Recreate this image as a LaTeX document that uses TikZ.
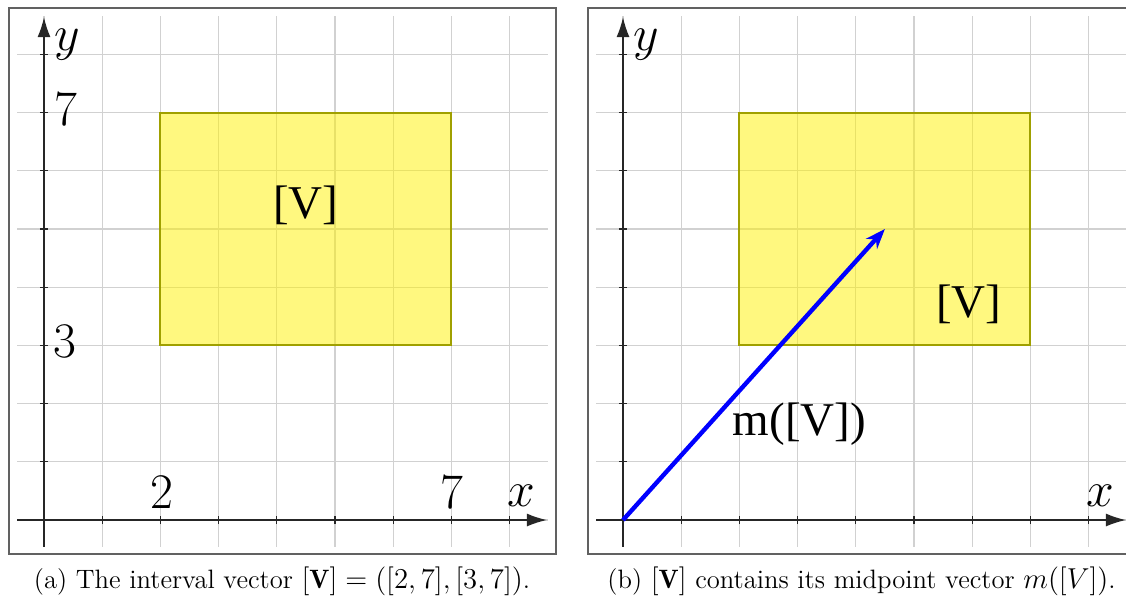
\documentclass[tikz,border=0pt]{standalone}
\usepackage{fontspec}
\newfontfamily\timesf{Liberation Serif}
\usetikzlibrary{arrows.meta}
\definecolor{boxedge}{RGB}{160,160,0}
\begin{document}
\begin{tikzpicture}[x=0.5pt,y=-0.5pt]
\useasboundingbox (0,0) rectangle (1126,596);
\tikzset{
  gridline/.style={draw=black!18, line width=0.6pt},
  axis/.style={draw=black!85, line width=0.65pt, -{Latex[length=10pt,width=6.5pt]}},
  tick/.style={draw=black!85, line width=0.6pt},
  panelframe/.style={draw=black!62, line width=0.8pt},
  ivbox/.style={fill=yellow, fill opacity=0.5, draw=boxedge, draw opacity=1, line width=1pt},
  axlabel/.style={font=\fontsize{24.88}{30}\selectfont, inner sep=0pt},
  vlabel/.style={font=\timesf\fontsize{23.5}{28}\selectfont, inner sep=0pt},
  captext/.style={font=\fontsize{13.3}{16}\selectfont, inner sep=0pt},
  midvec/.style={draw=blue, line width=2.2pt, -{Stealth[length=10pt,width=7.5pt]}},
}
% frames
\draw[panelframe] (9,8) rectangle (556,554);
\draw[panelframe] (588,8) rectangle (1140,554);

% ---------- panel (a)
\begin{scope}[shift={(44,520)}, x=29.1pt, y=29.1pt]
  \foreach \i in {0,...,8} {
    \draw[gridline] (\i,-0.46) -- (\i,8.66);
    \draw[gridline] (-0.46,\i) -- (8.66,\i);
  }
  \draw[ivbox] (2,3) rectangle (7,7);
  \coordinate (aO) at (0,0);
  \coordinate (aXs) at (-0.46,0);
  \coordinate (aXe) at (8.64,0);
  \coordinate (aYs) at (0,-0.46);
  \coordinate (aYe) at (0,8.64);
  \draw[axis] (aXs) -- (aXe);
  \draw[axis] (aYs) -- (aYe);
  \foreach \i in {1,...,8} {
    \draw[tick] (\i,-0.07) -- (\i,0.07);
    \draw[tick] (-0.07,\i) -- (0.07,\i);
  }
  \node[axlabel] (ay) at (0.40,8.17) {$y$};
  \node[axlabel] (ax) at (8.21,0.42) {$x$};
  \node[axlabel] (ay7) at (0.37,7.06) {$7$};
  \node[axlabel] (ay3) at (0.36,3.06) {$3$};
  \node[axlabel] (ax2) at (2.02,0.47) {$2$};
  \node[axlabel] (ax7) at (7.01,0.48) {$7$};
  \node[vlabel] (aV) at (4.50,5.41) {[V]};
\end{scope}

% ---------- panel (b)
\begin{scope}[shift={(623,520)}, x=29.1pt, y=29.1pt]
  \foreach \i in {0,...,8} {
    \draw[gridline] (\i,-0.46) -- (\i,8.66);
    \draw[gridline] (-0.46,\i) -- (8.9,\i);
  }
  \draw[ivbox] (2,3) rectangle (7,7);
  \coordinate (bO) at (0,0);
  \coordinate (bXs) at (-0.46,0);
  \coordinate (bXe) at (8.64,0);
  \coordinate (bYs) at (0,-0.46);
  \coordinate (bYe) at (0,8.64);
  \coordinate (bM) at (4.5,5);
  \draw[axis] (bXs) -- (bXe);
  \draw[axis] (bYs) -- (bYe);
  \foreach \i in {1,...,8} {
    \draw[tick] (\i,-0.07) -- (\i,0.07);
    \draw[tick] (-0.07,\i) -- (0.07,\i);
  }
  \draw[midvec] (bO) -- (bM);
  \node[axlabel] (by) at (0.40,8.17) {$y$};
  \node[axlabel] (bx) at (8.21,0.42) {$x$};
  \node[vlabel] (bV) at (5.94,3.71) {[V]};
  \node[vlabel] (bm) at (3.03,1.65) {m([V])};
\end{scope}

% captions
\node[captext] (capa) at (282,581) {(a) The interval vector $[\mathbf{V}]=([2,7],[3,7])$.};
\node[captext] (capb) at (861.5,581) {(b) $[\mathbf{V}]$ contains its midpoint vector $m([V])$.};
\end{tikzpicture}
\end{document}
